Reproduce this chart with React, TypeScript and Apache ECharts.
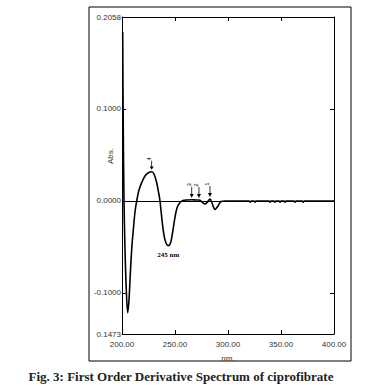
import { useEffect, useRef } from "react";
import * as echarts from "echarts";

// Wavelength (nm) and first-order derivative absorbance
const wavelengths = [
  200.66, 201.13, 201.89, 202.83, 204.06, 205.38, 206.6, 208.02, 209.43, 210.66,
  212.26, 213.87, 216.04, 218.87, 221.7, 224.53, 228.02, 230.19, 232.55, 234.43,
  235.85, 237.74, 239.62, 241.51, 243.68, 245.75, 247.64, 249.53, 251.89, 254.72,
  257.55, 261.32, 266.04, 269.81, 272.64, 275.47, 278.3, 280.66, 283.02, 284.91,
  287.74, 290.57, 293.4, 297.17, 319.8, 320.8, 322.0, 324.5, 325.5, 326.5,
  338.6, 339.6, 340.6, 343.3, 344.3, 345.3, 348.1, 349.1, 350.1, 352.8,
  353.8, 354.8, 362.2, 363.2, 364.2, 370.0, 371.0, 372.0, 400.0,
];
const derivative = [
  0.1837, 0.088, 0.0, -0.0533, -0.0967, -0.1214, -0.1076, -0.075, -0.0478, -0.0315,
  -0.012, 0.0, 0.012, 0.0207, 0.0272, 0.0304, 0.0318, 0.0293, 0.0207, 0.0098,
  0.0, -0.0207, -0.037, -0.0457, -0.0486, -0.0457, -0.0348, -0.0207, -0.0076, -0.0016,
  0.0005, 0.0011, 0.0013, 0.0011, 0.0011, -0.0011, -0.0033, -0.0011, 0.0022, -0.0022,
  -0.0092, -0.0054, -0.0005, 0.0, 0.0, -0.0014, 0.0, 0.0, -0.0014, 0.0,
  0.0, -0.0014, 0.0, 0.0, -0.0014, 0.0, 0.0, -0.0014, 0.0, 0.0,
  -0.0014, 0.0, 0.0, -0.0012, 0.0, 0.0, -0.0012, 0.0, 0.0,
];

// Peak annotations (arrows with numbers)
const peakLabels = ["4", "3", "2", "1"];
const peakNm = [228.0, 265.8, 272.6, 283.0];
const peakValues = [0.0318, 0.0013, 0.0011, 0.0022];

// Trough annotation
const troughLabel = "245 nm";
const troughNm = 243.7;
const troughValue = -0.0486;

// Axes
const xMin = 200;
const xMax = 400;
const xInterval = 50;
const yMin = -0.1446;
const yMax = 0.2;
const yLabelValues = [yMin, -0.1, 0, 0.1, yMax];
const yLabelTexts = ["0.1473", "-0.1000", "0.0000", "0.1000", "0.2058"];
const yTickValues = [-0.1, 0, 0.1];

const xAxisName = "nm.";
const yAxisName = "Abs.";
const caption = "Fig. 3: First Order Derivative Spectrum of ciprofibrate";

export default function App() {
  const ref = useRef<HTMLDivElement>(null);

  useEffect(() => {
    if (!ref.current) return;
    const chart = echarts.init(ref.current, undefined, { renderer: "svg" });

    const seriesData = wavelengths.map((w, i) => [w, derivative[i]]);
    const arrowPath = "path://M4,0 L6,0 L6,13 L10,13 L5,20 L0,13 L4,13 Z";

    const peakPoints = peakLabels.map((lab, i) => {
      const len = i === 0 ? 9 : 11;
      return {
        coord: [peakNm[i], peakValues[i]],
        symbol: arrowPath,
        symbolKeepAspect: false,
        symbolSize: [4, len],
        symbolOffset: [0, -(len / 2 + 2)],
        itemStyle: { color: "#000" },
        label: {
          show: true,
          formatter: lab,
          position: "top",
          distance: 2,
          rotate: 90,
          fontSize: 6,
          color: "#000",
          fontFamily: "Liberation Sans",
        },
      };
    });

    const troughPoint = {
      coord: [troughNm, troughValue],
      symbol: "circle",
      symbolSize: 0,
      label: {
        show: true,
        formatter: troughLabel,
        position: "bottom",
        distance: 6,
        fontSize: 7,
        fontWeight: "bold",
        color: "#000",
        fontFamily: "Liberation Serif",
      },
    };

    const labelStyle = {
      fontSize: 8,
      color: "#333",
      fontFamily: "Liberation Sans",
    };

    chart.setOption({
      animation: false,
      backgroundColor: "#fff",
      grid: { left: 122, right: 40, top: 17, bottom: 58, containLabel: false },
      xAxis: [
        {
          type: "value",
          min: xMin,
          max: xMax,
          interval: xInterval,
          name: xAxisName,
          nameLocation: "middle",
          nameGap: 20,
          nameTextStyle: { ...labelStyle },
          axisLine: { show: true, onZero: false, lineStyle: { color: "#000", width: 1 } },
          axisTick: { show: true, inside: true, length: 4, lineStyle: { color: "#000" } },
          axisLabel: {
            ...labelStyle,
            margin: 6,
            formatter: (v: number) => v.toFixed(2),
          },
          splitLine: { show: false },
        },
        {
          type: "value",
          position: "top",
          min: xMin,
          max: xMax,
          interval: xInterval,
          axisLine: { show: true, onZero: false, lineStyle: { color: "#000", width: 1 } },
          axisTick: { show: true, inside: true, length: 4, lineStyle: { color: "#000" } },
          axisLabel: { show: false },
          splitLine: { show: false },
        },
      ],
      yAxis: [
        {
          type: "value",
          min: yMin,
          max: yMax,
          axisLine: { show: true, onZero: false, lineStyle: { color: "#000", width: 1 } },
          axisTick: {
            show: true,
            inside: true,
            length: 4,
            customValues: yTickValues,
            lineStyle: { color: "#000" },
          },
          axisLabel: {
            ...labelStyle,
            margin: 1,
            customValues: yLabelValues,
            formatter: (v: number) => {
              const idx = yLabelValues.findIndex((x) => Math.abs(x - v) < 1e-6);
              return idx >= 0 ? yLabelTexts[idx] : "";
            },
          },
          splitLine: { show: false },
        },
        {
          type: "value",
          position: "right",
          min: yMin,
          max: yMax,
          axisLine: { show: true, onZero: false, lineStyle: { color: "#000", width: 1 } },
          axisTick: {
            show: true,
            inside: true,
            length: 4,
            customValues: yTickValues,
            lineStyle: { color: "#000" },
          },
          axisLabel: { show: false },
          splitLine: { show: false },
        },
      ],
      series: [
        {
          type: "line",
          xAxisIndex: 0,
          yAxisIndex: 0,
          data: seriesData,
          showSymbol: false,
          smooth: 0.35,
          lineStyle: { color: "#000", width: 1.6 },
          markLine: {
            silent: true,
            symbol: ["none", "none"],
            label: { show: false },
            lineStyle: { color: "#000", width: 1, type: "solid" },
            data: [{ yAxis: 0 }],
          },
          markPoint: {
            silent: true,
            data: [...peakPoints, troughPoint],
          },
        },
      ],
      graphic: [
        {
          type: "rect",
          shape: { x: 89, y: 7, width: 262, height: 354 },
          style: { fill: "none", stroke: "#000", lineWidth: 1 },
          silent: true,
        },
        {
          type: "text",
          x: 110,
          y: 156,
          rotation: Math.PI / 2,
          style: {
            text: yAxisName,
            fontSize: 8,
            fill: "#333",
            fontFamily: "Liberation Sans",
            align: "center",
            verticalAlign: "middle",
          },
        },
        {
          type: "text",
          x: 181,
          y: 376,
          style: {
            text: caption,
            fontSize: 13,
            fontWeight: "bold",
            fill: "#222",
            fontFamily: "Liberation Serif",
            align: "center",
            verticalAlign: "middle",
          },
        },
      ],
    });

    return () => chart.dispose();
  }, []);

  return (
    <div
      ref={ref}
      style={{ position: "absolute", left: 0, top: 0, width: 374, height: 392 }}
    />
  );
}
